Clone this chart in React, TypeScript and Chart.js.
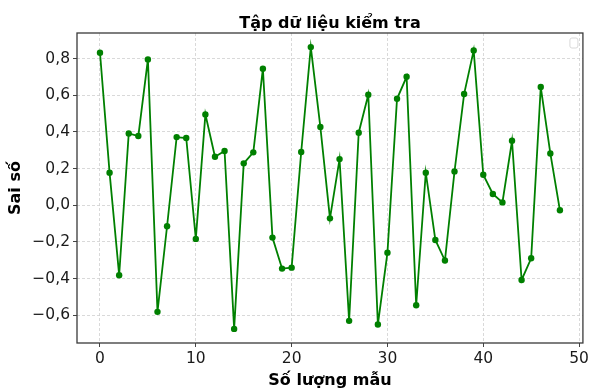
import React, { useEffect, useRef } from "react";
import { Chart, registerables } from "chart.js";

Chart.register(...registerables);

const TITLE = "Tập dữ liệu kiểm tra";
const X_LABEL = "Số lượng mẫu";
const Y_LABEL = "Sai số";

// sample errors, indexed 0..48
const errors: number[] = [
  0.832, 0.178, -0.381, 0.392, 0.378, 0.796, -0.581, -0.114, 0.372, 0.367,
  -0.183, 0.496, 0.265, 0.296, -0.674, 0.229, 0.289, 0.745, -0.176, -0.345,
  -0.34, 0.291, 0.863, 0.427, -0.071, 0.252, -0.63, 0.396, 0.603, -0.65,
  -0.258, 0.581, 0.701, -0.545, 0.178, -0.189, -0.301, 0.185, 0.607, 0.845,
  0.167, 0.062, 0.016, 0.352, -0.407, -0.289, 0.645, 0.283, -0.027,
];
const sampleIndex: number[] = errors.map((_, i) => i);

const FONT = "'DejaVu Sans', sans-serif";

const fmt = (v: number) => {
  const r = Math.round(v * 10) / 10;
  const s = Math.abs(r).toFixed(1).replace(".", ",");
  return r < 0 ? "\u2212" + s : s;
};

const framePlugin = {
  id: "frameAndTitle",
  afterDraw(chart: any) {
    const { ctx, chartArea } = chart;
    const { left, right, top, bottom } = chartArea;
    ctx.save();
    // frame
    ctx.strokeStyle = "#3a3a3a";
    ctx.lineWidth = 1.3;
    ctx.strokeRect(left, top, right - left, bottom - top);
    // empty legend box
    const lx = right - 13, ly = top + 5, lw = 8, lh = 10, r = 2;
    ctx.beginPath();
    ctx.moveTo(lx + r, ly);
    ctx.lineTo(lx + lw - r, ly);
    ctx.quadraticCurveTo(lx + lw, ly, lx + lw, ly + r);
    ctx.lineTo(lx + lw, ly + lh - r);
    ctx.quadraticCurveTo(lx + lw, ly + lh, lx + lw - r, ly + lh);
    ctx.lineTo(lx + r, ly + lh);
    ctx.quadraticCurveTo(lx, ly + lh, lx, ly + lh - r);
    ctx.lineTo(lx, ly + r);
    ctx.quadraticCurveTo(lx, ly, lx + r, ly);
    ctx.closePath();
    ctx.fillStyle = "rgba(255,255,255,0.8)";
    ctx.fill();
    ctx.strokeStyle = "#d8d8d8";
    ctx.lineWidth = 1;
    ctx.stroke();
    // title
    ctx.fillStyle = "#000";
    ctx.font = `bold 16px ${FONT}`;
    ctx.textAlign = "center";
    ctx.textBaseline = "alphabetic";
    ctx.fillText(TITLE, (left + right) / 2, 27.5);
    ctx.restore();
  },
};

export default function App() {
  const ref = useRef<HTMLCanvasElement | null>(null);
  useEffect(() => {
    if (!ref.current) return;
    const xMin = sampleIndex[0];
    const xMax = sampleIndex[sampleIndex.length - 1];
    const xm = (xMax - xMin) * 0.05;
    const yMin = Math.min(...errors);
    const yMax = Math.max(...errors);
    const ym = (yMax - yMin) * 0.05;
    const gridCommon = {
      color: "#cfcfcf",
      lineWidth: 0.8,
      tickColor: "#444444",
      tickWidth: 1,
      tickBorderDash: [],
      tickLength: 4,
    };
    const borderCommon = { display: false, dash: [3, 2] };
    const chart = new Chart(ref.current, {
      type: "line",
      data: {
        datasets: [
          {
            data: errors.map((v, i) => ({ x: sampleIndex[i], y: v })),
            borderColor: "#008000",
            backgroundColor: "#008000",
            borderWidth: 1.8,
            pointRadius: 3.2,
            pointBorderWidth: 0,
            pointBackgroundColor: "#008000",
            tension: 0,
            fill: false,
          },
        ],
      },
      options: {
        animation: false,
        responsive: false,
        layout: { padding: { left: 0, right: 7, top: 33, bottom: 0 } },
        plugins: {
          legend: { display: false },
          title: { display: false },
          tooltip: { enabled: false },
        },
        scales: {
          x: {
            type: "linear",
            min: xMin - xm,
            max: xMax + xm,
            grid: gridCommon as any,
            border: borderCommon,
            ticks: {
              stepSize: 10,
              includeBounds: false,
              color: "#1a1a1a",
              padding: 3,
              maxRotation: 0,
              font: { family: FONT, size: 15.5 },
              callback: (v: any) => String(Math.round(Number(v))),
            },
            title: {
              display: true,
              text: X_LABEL,
              color: "#000",
              font: { family: FONT, size: 16, weight: "bold", lineHeight: 1 },
              padding: { top: 0, bottom: 0 },
            },
            afterFit: (s: any) => {
              s.height = 46;
            },
          },
          y: {
            type: "linear",
            min: yMin - ym,
            max: yMax + ym,
            grid: gridCommon as any,
            border: borderCommon,
            ticks: {
              stepSize: 0.2,
              includeBounds: false,
              color: "#1a1a1a",
              padding: 3,
              font: { family: FONT, size: 15.5 },
              callback: (v: any) => fmt(Number(v)),
            },
            title: {
              display: true,
              text: Y_LABEL,
              color: "#000",
              font: { family: FONT, size: 16, weight: "bold", lineHeight: 1 },
              padding: { top: 8, bottom: 0 },
            },
            afterFit: (s: any) => {
              s.width = 77;
            },
          },
        },
      } as any,
      plugins: [framePlugin],
    });
    return () => chart.destroy();
  }, []);
  return (
    <div style={{ position: "fixed", left: 0, top: 0, width: 592, height: 389, background: "#fff" }}>
      <canvas ref={ref} width={592} height={389} style={{ display: "block" }} />
    </div>
  );
}
